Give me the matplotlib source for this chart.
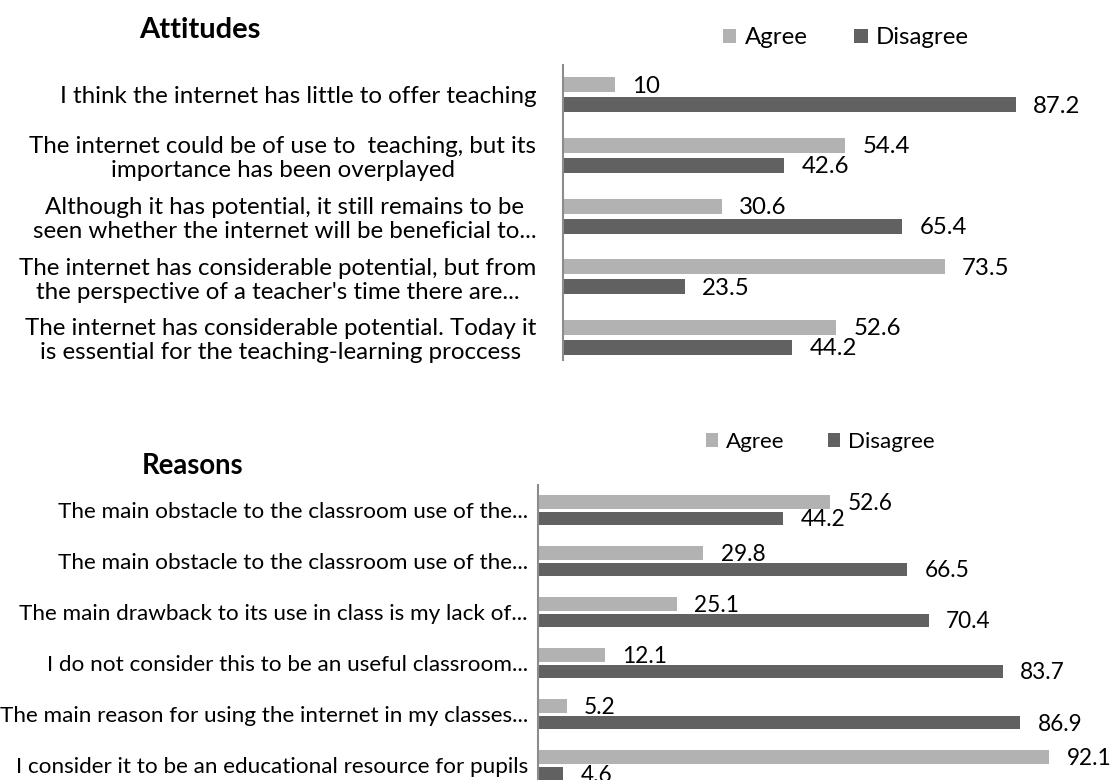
import matplotlib
matplotlib.use('Agg')
import matplotlib.pyplot as plt
from matplotlib.patches import Patch

plt.rcParams['font.family'] = ['Lato', 'DejaVu Sans']

# ---------------- data ----------------
att_labels = [
    "I think the internet has little to offer teaching",
    "The internet could be of use to  teaching, but its\nimportance has been overplayed",
    "Although it has potential, it still remains to be\nseen whether the internet will be beneficial to...",
    "The internet has considerable potential, but from\nthe perspective of a teacher's time there are...",
    "The internet has considerable potential. Today it\nis essential for the teaching-learning proccess",
]
att_agree = [10, 54.4, 30.6, 73.5, 52.6]
att_disagree = [87.2, 42.6, 65.4, 23.5, 44.2]

rea_labels = [
    "The main obstacle to the classroom use of the...",
    "The main obstacle to the classroom use of the...",
    "The main drawback to its use in class is my lack of...",
    "I do not consider this to be an useful classroom...",
    "The main reason for using the internet in my classes...",
    "I consider it to be an educational resource for pupils",
]
rea_agree = [52.6, 29.8, 25.1, 12.1, 5.2, 92.1]
rea_disagree = [44.2, 66.5, 70.4, 83.7, 86.9, 4.6]

series_names = ["Agree", "Disagree"]

# ---------------- style ----------------
AGREE = "#b2b2b2"
DISAG = "#616161"
AXIS = "#8c8c8c"
W, H = 1111, 780

fig = plt.figure(figsize=(W / 100, H / 100), dpi=100)
fig.patch.set_facecolor("white")


def px_axes(left, top, right, bottom):
    return fig.add_axes([left / W, 1 - bottom / H, (right - left) / W, (bottom - top) / H])


def panel(ax, labels, agree, disagree, ybottom, off, bh, pad_pt, fs_lab, fs_val):
    n = len(labels)
    pos = list(range(n))
    ax.barh([p - off for p in pos], agree, height=bh, color=AGREE)
    ax.barh([p + off for p in pos], disagree, height=bh, color=DISAG)
    ax.set_xlim(0, 100)
    ax.set_ylim(ybottom, -0.5)
    for s in ["top", "right", "bottom"]:
        ax.spines[s].set_visible(False)
    ax.spines["left"].set_color(AXIS)
    ax.spines["left"].set_linewidth(1.5)
    ax.set_xticks([])
    ax.set_yticks(pos)
    ax.set_yticklabels(labels, fontsize=fs_lab, multialignment="center", linespacing=1.17)
    ax.tick_params(axis="y", length=0, pad=pad_pt)
    ax.patch.set_alpha(0)
    for p, a, d in zip(pos, agree, disagree):
        ax.annotate(f"{a:g}", (a, p - off), xytext=(12.5, -1), textcoords="offset points",
                    ha="left", va="center", fontsize=fs_val)
        ax.annotate(f"{d:g}", (d, p + off), xytext=(12.5, -1), textcoords="offset points",
                    ha="left", va="center", fontsize=fs_val)


# top panel: Attitudes
ax1 = px_axes(562.7, 64.5, 1082.2, 360)
panel(ax1, att_labels, att_agree, att_disagree, 4.371, 0.166, 0.25, 19, 17.4, 17.3)

# bottom panel: Reasons
ax2 = px_axes(537.7, 484.5, 1093.2, 780)
panel(ax2, rea_labels, rea_agree, rea_disagree, 5.284, 0.162, 0.265, 7, 16.2, 16.3)

fig.text(200 / W, 1 - 30 / H, "Attitudes", ha="center", va="center",
         fontsize=21, fontweight="bold")
fig.text(193 / W, 1 - 466 / H, "Reasons", ha="center", va="center",
         fontsize=19.8, fontweight="bold")

handles = [Patch(facecolor=AGREE), Patch(facecolor=DISAG)]
for cx, cy, fs in [(846, 38, 17.3), (820, 442, 16.1)]:
    fig.legend(handles, series_names, loc="center", ncol=2,
               bbox_to_anchor=(cx / W, 1 - cy / H), bbox_transform=fig.transFigure,
               frameon=False, fontsize=fs, handlelength=0.55, handleheight=0.55,
               handletextpad=0.34, columnspacing=1.95, borderpad=0, borderaxespad=0)

fig.savefig("out.png", dpi=100, facecolor="white")
